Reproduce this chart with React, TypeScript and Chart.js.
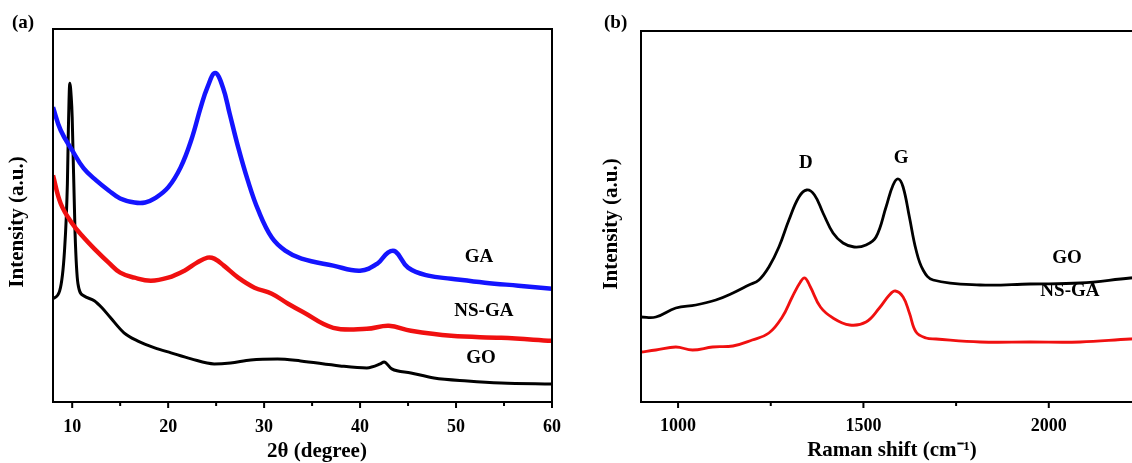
import React, { useEffect, useRef } from "react";
import { Chart, registerables } from "chart.js";

Chart.register(...registerables);

const FONT = '"Liberation Serif", "Times New Roman", serif';

// ---------- (a) XRD ----------
const gaX = [8, 8.8, 10, 11.2, 12.5, 13.8, 15, 16.5, 17.6, 18.6, 20, 21.3, 22.4, 23.4, 24.1, 24.9, 25.7, 26.4, 27.3, 28.3, 29.4, 30.8, 32.2, 33.9, 37.2, 40, 41.8, 42.9, 43.7, 45, 47.1, 49.5, 53, 56.5, 60];
const gaY = [294, 271, 251, 233, 221, 211, 203, 199, 199, 203, 214, 234, 261, 294, 314, 328, 314, 288, 254, 221, 191, 164, 151, 143, 136, 131, 138, 149, 150, 134, 126, 123, 119, 116, 113];

const nsgaX = [8, 8.8, 10, 11.2, 12.5, 13.8, 15, 16.5, 18.2, 20, 21.7, 23, 24.1, 24.8, 25.8, 27.3, 29, 30.8, 32.5, 34, 37.2, 40.7, 43, 45.3, 49.5, 54.7, 60];
const nsgaY = [226, 198, 178, 164, 151, 139, 129, 124, 121, 124, 131, 139, 144, 143, 136, 124, 114, 108, 98, 90, 74, 73, 76, 71, 66, 64, 61];

const goX = [8, 8.7, 9.2, 9.5, 9.6, 9.75, 9.9, 10, 10.3, 10.6, 11.2, 12.3, 13.1, 14, 15.4, 16.8, 18.6, 20.3, 22.4, 24.8, 26.5, 28.6, 31.4, 33.8, 37.9, 40.7, 42.1, 42.5, 43.3, 45.3, 47.7, 51.2, 54.7, 60];
const goY = [103, 111, 151, 218, 271, 318, 304, 284, 168, 118, 106, 101, 94, 84, 69, 61, 54, 49, 43, 38, 39, 42, 43, 41, 36, 34, 38, 40, 33, 29, 24, 21, 19, 18];

const xrdLabelText = ["GA", "NS-GA", "GO"];
const xrdLabelX = [52.4, 52.9, 52.6];
const xrdLabelY = [145, 91, 44];

// ---------- (b) Raman ----------
const ramanGoX = [900, 940, 994, 1048, 1102, 1148, 1191, 1218, 1245, 1272, 1299, 1326, 1347, 1368, 1391, 1418, 1445, 1475, 1507, 1534, 1561, 1580, 1594, 1607, 1624, 1642, 1661, 1688, 1815, 1950, 2085, 2220, 2300];
const ramanGoY = [85, 85, 94, 97, 102, 109, 117, 122, 135, 155, 182, 205, 212, 207, 189, 169, 159, 155, 157, 165, 195, 217, 223, 215, 185, 152, 132, 122, 117, 118, 119, 124, 126];

const ramanNsX = [900, 940, 994, 1039, 1093, 1148, 1200, 1245, 1281, 1308, 1330, 1342, 1357, 1384, 1418, 1463, 1507, 1543, 1570, 1586, 1607, 1624, 1642, 1669, 1696, 1815, 1950, 2085, 2220, 2300];
const ramanNsY = [50, 52, 55, 52, 55, 56, 62, 69, 85, 105, 120, 124, 115, 95, 84, 77, 80, 94, 107, 111, 105, 89, 70, 64, 63, 60, 60, 60, 63, 64];

const ramanLabelText = ["D", "G", "GO", "NS-GA"];
const ramanLabelX = [1345, 1602, 2049, 2057];
const ramanLabelY = [239, 244, 144, 111];

const pts = (xs: number[], ys: number[]) => xs.map((x, i) => ({ x, y: ys[i] }));

type Titles = { xText: string; xCx: number; xCy: number; yText: string; yCx: number; yCy: number };

function makeFramePlugin(labels: string[], lx: number[], ly: number[], majorStep: number, t: Titles) {
  return {
    id: "frame",
    afterDraw(chart: any) {
      const { ctx, chartArea: a } = chart;
      const xs = chart.scales.x;
      const ys = chart.scales.y;
      ctx.save();
      ctx.strokeStyle = "#000";
      ctx.lineWidth = 2;
      ctx.beginPath();
      ctx.rect(a.left, a.top, a.right - a.left, a.bottom - a.top);
      xs.ticks.forEach((tk: any) => {
        const px = xs.getPixelForValue(tk.value);
        const major = Math.abs(tk.value % majorStep) < 1e-6;
        ctx.moveTo(px, a.bottom);
        ctx.lineTo(px, a.bottom + (major ? 6 : 4));
      });
      ctx.stroke();
      ctx.fillStyle = "#000";
      ctx.textAlign = "center";
      ctx.textBaseline = "middle";
      ctx.font = `bold 19px ${FONT}`;
      labels.forEach((txt, i) => {
        ctx.fillText(txt, xs.getPixelForValue(lx[i]), ys.getPixelForValue(ly[i]));
      });
      // axis titles
      ctx.font = `bold 21px ${FONT}`;
      ctx.fillText(t.xText, t.xCx, t.xCy);
      ctx.translate(t.yCx, t.yCy);
      ctx.rotate(-Math.PI / 2);
      ctx.fillText(t.yText, 0, 0);
      ctx.restore();
    },
  };
}

function baseOptions(opts: {
  xmin: number; xmax: number; step: number; major: number; ymax: number;
  yWidth: number; xHeight: number; tickPad: number; padding: any;
}) {
  return {
    responsive: false,
    animation: false,
    events: [],
    layout: { padding: opts.padding },
    plugins: { legend: { display: false }, tooltip: { enabled: false } },
    elements: { point: { radius: 0 } },
    scales: {
      x: {
        type: "linear",
        min: opts.xmin,
        max: opts.xmax,
        grid: { display: false, drawTicks: false },
        border: { display: false },
        ticks: {
          stepSize: opts.step,
          includeBounds: false,
          autoSkip: false,
          maxRotation: 0,
          color: "#000",
          padding: opts.tickPad,
          font: { family: FONT, size: 18, weight: "bold" },
          callback: (v: any) => (Math.abs(v % opts.major) < 1e-6 ? String(v) : ""),
        },
        title: { display: false },
        afterFit: (s: any) => { s.height = opts.xHeight; },
      },
      y: {
        type: "linear",
        min: 0,
        max: opts.ymax,
        grid: { display: false, drawTicks: false },
        border: { display: false },
        ticks: { display: false },
        title: { display: false },
        afterFit: (s: any) => { s.width = opts.yWidth; },
      },
    },
  };
}

function ds(data: any[], color: string, width: number, mono: boolean) {
  return {
    data,
    borderColor: color,
    backgroundColor: color,
    borderWidth: width,
    pointRadius: 0,
    fill: false,
    tension: mono ? 0 : 0.4,
    cubicInterpolationMode: mono ? "monotone" : "default",
  };
}

function xrdConfig(): any {
  return {
    type: "line",
    data: {
      datasets: [
        ds(pts(gaX, gaY), "#1414ff", 4.5, false),
        ds(pts(nsgaX, nsgaY), "#f01010", 4.5, false),
        ds(pts(goX, goY), "#000000", 3, true),
      ],
    },
    options: baseOptions({
      xmin: 8, xmax: 60, step: 5, major: 10, ymax: 372,
      yWidth: 53, xHeight: 61, tickPad: 15,
      padding: { top: 29, right: 0, left: 0, bottom: 0 },
    }),
    plugins: [
      makeFramePlugin(xrdLabelText, xrdLabelX, xrdLabelY, 10, {
        xText: "2θ (degree)", xCx: 317, xCy: 452,
        yText: "Intensity (a.u.)", yCx: 18, yCy: 222,
      }),
    ],
  };
}

function ramanConfig(): any {
  return {
    type: "line",
    data: {
      datasets: [
        ds(pts(ramanGoX, ramanGoY), "#000000", 2.8, false),
        ds(pts(ramanNsX, ramanNsY), "#f01010", 2.8, false),
      ],
    },
    options: baseOptions({
      xmin: 900, xmax: 2300, step: 250, major: 500, ymax: 371,
      yWidth: 61, xHeight: 61, tickPad: 14,
      padding: { top: 31, right: 40, left: 0, bottom: 0 },
    }),
    plugins: [
      makeFramePlugin(ramanLabelText, ramanLabelX, ramanLabelY, 500, {
        xText: "Raman shift (cm⁻¹)", xCx: 892 - 580, xCy: 451,
        yText: "Intensity (a.u.)", yCx: 612 - 580, yCy: 224,
      }),
    ],
  };
}

function Panel({ left, width, config }: { left: number; width: number; config: () => any }) {
  const ref = useRef<HTMLCanvasElement | null>(null);
  useEffect(() => {
    if (!ref.current) return;
    const c = new Chart(ref.current, config());
    return () => c.destroy();
  }, []);
  return (
    <canvas
      ref={ref}
      width={width}
      height={463}
      style={{ position: "absolute", left, top: 0, width, height: 463 }}
    />
  );
}

const panelLabel: React.CSSProperties = {
  position: "absolute",
  fontFamily: FONT,
  fontWeight: "bold",
  fontSize: 19,
  lineHeight: "19px",
  color: "#000",
};

export default function App() {
  return (
    <div
      style={{
        position: "absolute",
        left: 0,
        top: 0,
        width: 1132,
        height: 463,
        overflow: "hidden",
        background: "#fff",
      }}
    >
      <Panel left={0} width={576} config={xrdConfig} />
      <Panel left={580} width={620} config={ramanConfig} />
      <div style={{ ...panelLabel, left: 12, top: 12 }}>(a)</div>
      <div style={{ ...panelLabel, left: 604, top: 12 }}>(b)</div>
    </div>
  );
}
